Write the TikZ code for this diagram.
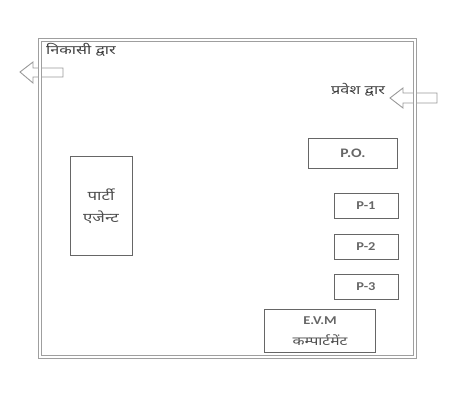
\documentclass[tikz,border=0pt]{standalone}
\usepackage{fontspec}
\setmainfont{Carlito}[FakeStretch=1.2]
\newfontfamily\hindi[Script=Devanagari]{Noto Sans}
\newfontfamily\hindiwide[Script=Devanagari, FakeStretch=1.3]{Noto Sans}
\usetikzlibrary{positioning}

\begin{document}
\begin{tikzpicture}[x=1pt, y=-1pt,
    hall/.style={draw=gray!75, double=white, double distance=2.6pt, line width=0.9pt},
    gatearrow/.style={draw=gray!80, line width=0.9pt, line join=miter},
    booth/.style={draw=gray!80!black, line width=1pt, align=center,
                  text=black!70, inner sep=1pt},
    smallbox/.style={booth, minimum width=64pt, minimum height=25pt,
                     font=\bfseries\fontsize{12}{13}\selectfont, text=black!60},
    lbl/.style={font=\hindiwide\fontsize{12.5}{14}\selectfont, text=black!75, inner sep=0pt},
]
\useasboundingbox (0,0) rectangle (472,405);

%% -- gates --------------------------------------------------------------
\draw[gatearrow] (20,72) -- (33,62) -- (33,68) -- (63,68) -- (63,77)
    -- (33,77) -- (33,83) -- cycle;
\draw[gatearrow] (390,98) -- (403,88) -- (403,93) -- (437,93) -- (437,103)
    -- (403,103) -- (403,108) -- cycle;

%% -- polling hall -------------------------------------------------------
\draw[hall] (40,40) rectangle (415,357);

\node[lbl, anchor=west] (exitlbl)  at (46,50) {निकासी द्वार};
\node[lbl, anchor=west] (entrylbl) at (331,90) {प्रवेश द्वार};

%% -- party agent --------------------------------------------------------
\node[booth, minimum width=62pt, minimum height=99pt,
      font=\hindiwide\fontsize{13}{22}\selectfont] (agent) at (101,206)
      {पार्टी\\एजेन्ट};

%% -- polling officers ---------------------------------------------------
\node[booth, minimum width=89pt, minimum height=30pt, text=black!60,
      font=\bfseries\fontsize{13}{14}\selectfont] (po) at (353,153) {P.O.};
\node[smallbox] (p1) at (366,206) {P-1};
\node[smallbox, below=15pt of p1] (p2) {P-2};
\node[smallbox, below=14pt of p2] (p3) {P-3};

%% -- EVM compartment ----------------------------------------------------
\node[booth, minimum width=111pt, minimum height=43pt,
      font=\hindiwide\fontsize{12}{21}\selectfont] (evm) at (320,331)
      {{\rmfamily\bfseries\color{black!60}E.V.M}\\कम्पार्टमेंट};

\end{tikzpicture}
\end{document}
